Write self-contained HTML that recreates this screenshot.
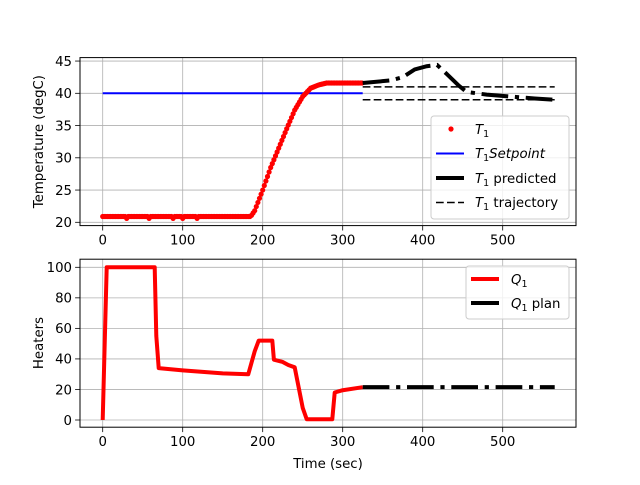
<!DOCTYPE html>
<html><head><meta charset="utf-8"><style>
body{margin:0;background:#fff}
svg text{font-family:"DejaVu Sans","Liberation Sans",sans-serif;font-size:13.3px;fill:#000}
</style></head><body>
<svg id="s" width="640" height="480" viewBox="0 0 640 480" xmlns="http://www.w3.org/2000/svg">
<rect width="640" height="480" fill="#fff"/>
<g id="g"></g>
</svg>
<script>
const NS="http://www.w3.org/2000/svg";const g=document.getElementById('g');
function el(t,a,txt){const e=document.createElementNS(NS,t);for(const k in a)e.setAttribute(k,a[k]);if(txt!==undefined)e.textContent=txt;g.appendChild(e);return e;}
const X=t=>102.7+0.8*t;
const YT=T=>222.3-(T-20)*6.45;
const YQ=Q=>420-1.527*Q;
const L=80,R=576,T1=57.6,B1=225.6,T2=259.2,B2=427.2;
for(const ax of [[T1,B1],[T2,B2]]){for(let t=0;t<=500;t+=100)el('line',{x1:X(t),x2:X(t),y1:ax[0],y2:ax[1],stroke:'#b0b0b0','stroke-width':0.8});}
for(let v=20;v<=45;v+=5)el('line',{x1:L,x2:R,y1:YT(v),y2:YT(v),stroke:'#b0b0b0','stroke-width':0.8});
for(let v=0;v<=100;v+=20)el('line',{x1:L,x2:R,y1:YQ(v),y2:YQ(v),stroke:'#b0b0b0','stroke-width':0.8});
function interp(tab,t){for(let i=0;i<tab.length-1;i++){if(t<=tab[i+1][0]){const a=tab[i],b=tab[i+1];return a[1]+(b[1]-a[1])*(t-a[0])/(b[0]-a[0]);}}return tab[tab.length-1][1];}
function poly(pts,fy,attrs){el('polyline',Object.assign({points:pts.map(p=>X(p[0])+','+fy(p[1])).join(' '),fill:'none'},attrs));}
el('line',{x1:X(0),x2:X(325),y1:YT(40),y2:YT(40),stroke:'#0000ff','stroke-width':2});
const Ttab=[[0,20.9],[185,20.9],[190,21.8],[200,25],[210,28.5],[220,31.5],[230,34.5],[240,37.4],[250,39.5],[260,40.8],[270,41.3],[280,41.6],[325,41.6]];
const dips=[30,58,88,100,118,145,165];
for(let t=0;t<=325;t+=2){let v=interp(Ttab,t);if(dips.includes(t))v=20.6;el('circle',{cx:X(t),cy:YT(v),r:2.6,fill:'#ff0000'});}
el('line',{x1:X(325),x2:X(565),y1:YT(41),y2:YT(41),stroke:'#000','stroke-width':1.5,'stroke-dasharray':'7.7 3.3'});
el('line',{x1:X(325),x2:X(565),y1:YT(39),y2:YT(39),stroke:'#000','stroke-width':1.5,'stroke-dasharray':'7.7 3.3'});
poly([[325,41.6],[360,42],[375,42.5],[390,43.7],[405,44.2],[418,44.4],[430,43],[445,41.2],[455,40.2],[480,39.8],[510,39.5],[540,39.2],[565,39]],YT,{stroke:'#000','stroke-width':4,'stroke-dasharray':'26.7 6.7 4.2 6.7'});
poly([[0,0],[5,100],[65,100],[67,55],[70,34],[100,32.5],[150,30.5],[182,30],[190,45],[195,52],[212,52],[214,39.5],[225,38],[232,36],[240,34.5],[250,8],[255,0.5],[287,0.5],[290,18],[300,19.5],[325,21.5]],YQ,{stroke:'#ff0000','stroke-width':4,'stroke-linejoin':'round'});
el('line',{x1:X(325),x2:X(565),y1:YQ(21.5),y2:YQ(21.5),stroke:'#000','stroke-width':4,'stroke-dasharray':'26.7 6.7 4.2 6.7'});
el('rect',{x:L,y:T1,width:R-L,height:B1-T1,fill:'none',stroke:'#000','stroke-width':1});
el('rect',{x:L,y:T2,width:R-L,height:B2-T2,fill:'none',stroke:'#000','stroke-width':1});
for(const [top,bot] of [[T1,B1],[T2,B2]]){for(let t=0;t<=500;t+=100){el('line',{x1:X(t),x2:X(t),y1:bot,y2:bot+4.9,stroke:'#000','stroke-width':0.8});el('text',{x:X(t),y:bot+19,'text-anchor':'middle'},String(t));}}
for(let v=20;v<=45;v+=5){el('line',{x1:L-4.9,x2:L,y1:YT(v),y2:YT(v),stroke:'#000','stroke-width':0.8});el('text',{x:L-8,y:YT(v)+4.8,'text-anchor':'end'},String(v));}
for(let v=0;v<=100;v+=20){el('line',{x1:L-4.9,x2:L,y1:YQ(v),y2:YQ(v),stroke:'#000','stroke-width':0.8});el('text',{x:L-8,y:YQ(v)+4.8,'text-anchor':'end'},String(v));}
el('text',{x:43,y:141.6,'text-anchor':'middle',transform:'rotate(-90 43 141.6)'},'Temperature (degC)');
el('text',{x:43,y:343,'text-anchor':'middle',transform:'rotate(-90 43 343)'},'Heaters');
el('text',{x:328,y:468,'text-anchor':'middle'},'Time (sec)');
el('rect',{x:431,y:116,width:138,height:103,rx:3,fill:'#fff','fill-opacity':0.8,stroke:'#ccc','stroke-width':1});
el('circle',{cx:451,cy:129,r:2.6,fill:'#ff0000'});
el('line',{x1:436,x2:464,y1:153.5,y2:153.5,stroke:'#0000ff','stroke-width':2});
el('line',{x1:436,x2:464,y1:178,y2:178,stroke:'#000','stroke-width':4});
el('line',{x1:436,x2:464,y1:202.5,y2:202.5,stroke:'#000','stroke-width':1.5,'stroke-dasharray':'7.7 3.3'});
function lab(x,y,main,rest,it){const t=el('text',{x:x,y:y});const a=document.createElementNS(NS,'tspan');a.setAttribute('font-style','italic');a.textContent=main;t.appendChild(a);const b=document.createElementNS(NS,'tspan');b.setAttribute('font-size','9.5');b.setAttribute('dy','3');b.textContent='1';t.appendChild(b);if(rest){const c=document.createElementNS(NS,'tspan');c.setAttribute('dy','-3');if(it)c.setAttribute('font-style','italic');c.textContent=rest;t.appendChild(c);}}
lab(475,134,'T','');
lab(475,158,'T','Setpoint',true);
lab(475,183,'T',' predicted');
lab(475,207,'T',' trajectory');
el('rect',{x:466,y:266,width:103,height:53,rx:3,fill:'#fff','fill-opacity':0.8,stroke:'#ccc','stroke-width':1});
el('line',{x1:471,x2:499,y1:279,y2:279,stroke:'#ff0000','stroke-width':4});
el('line',{x1:471,x2:499,y1:303,y2:303,stroke:'#000','stroke-width':4});
lab(511,284,'Q','');
lab(511,308,'Q',' plan');
</script>
</body></html>
